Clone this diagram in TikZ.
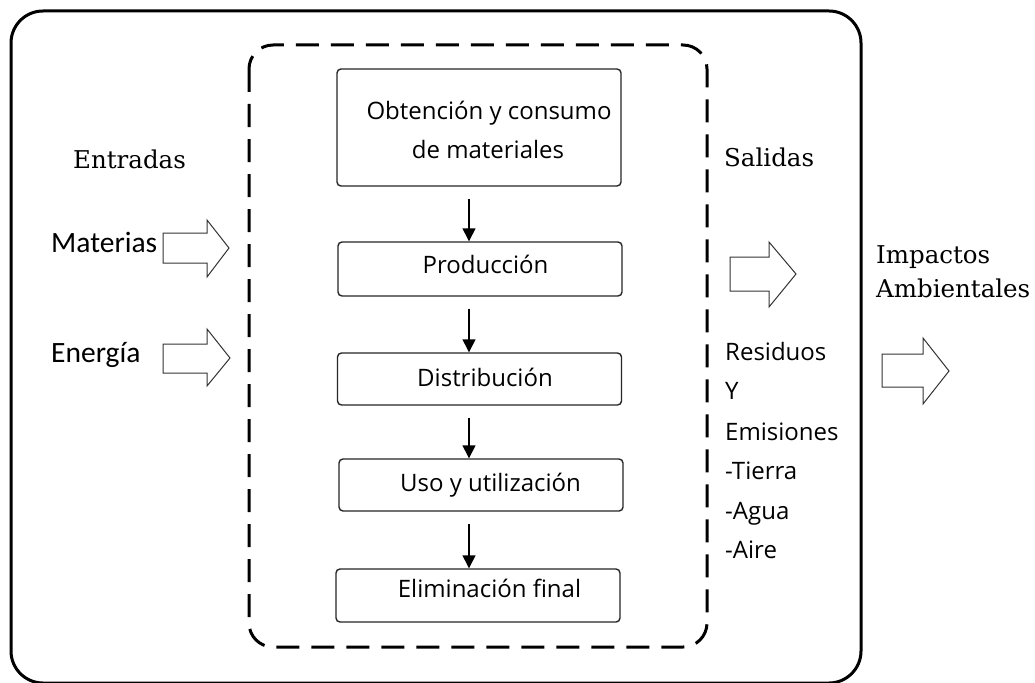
\documentclass[tikz,border=0pt]{standalone}
\usepackage{fontspec}
\usetikzlibrary{arrows.meta}
\newfontfamily\serifA{DejaVu Serif}
\newfontfamily\carl{Carlito}
\newfontfamily\opn{Open Sans}
\begin{document}
\begin{tikzpicture}[x=1pt,y=-1pt,
  outerbox/.style={draw=black,line width=3pt,rounded corners=32pt},
  dashbox/.style={draw=black,line width=3pt,dash pattern=on 23pt off 12pt,rounded corners=24pt},
  stage/.style={draw=black!85,line width=1.4pt,rounded corners=4pt,minimum width=284pt,inner sep=0pt},
  flow/.style={-{Triangle[length=13pt,width=13pt]},line width=1.4pt,shorten <=12pt},
  boxtxt/.style={font=\opn\fontsize{24}{28}\selectfont,anchor=base,inner sep=0pt},
  sidetxt/.style={font=\carl\fontsize{29.5}{33}\selectfont,anchor=base west,inner sep=0pt},
  outtxt/.style={font=\opn\fontsize{24}{28}\selectfont,anchor=base west,inner sep=0pt},
  sertxt/.style={font=\serifA\fontsize{24.5}{28}\selectfont,anchor=base west,inner sep=0pt},
  blockarr/.style={draw=black!80,line width=1pt,fill=white}]
\useasboundingbox (0,0) rectangle (1035,682);
\fill[white] (0,0) rectangle (1035,682);
% frames
\draw[outerbox] (11,11) rectangle (861,683);
\draw[dashbox] (249,45) rectangle (707,647);
% stages
\node[stage,minimum height=117pt] (b1) at (479,127.5) {};
\node[stage,minimum height=54pt] (b2) at (480,269) {};
\node[stage,minimum height=52pt] (b3) at (479.5,379) {};
\node[stage,minimum height=52pt] (b4) at (481,485) {};
\node[stage,minimum height=53pt] (b5) at (478,595.5) {};
\node[boxtxt] (t1a) at (489,120) {Obtención y consumo};
\node[boxtxt] (t1b) at (488,158) {de materiales};
\node[boxtxt] (t2) at (485.5,273) {Producción};
\node[boxtxt] (t3) at (485,386) {Distribución};
\node[boxtxt] (t4) at (490.5,491) {Uso y utilización};
\node[boxtxt] (t5) at (489.5,597) {Eliminación final};
% flow arrows
\draw[flow] (b1.south -| 469,0) -- (b2.north -| 469,0);
\draw[flow] (b2.south -| 469,0) -- (b3.north -| 469,0);
\draw[flow] (b3.south -| 469,0) -- (b4.north -| 469,0);
\draw[flow] (b4.south -| 469,0) -- (b5.north -| 469,0);
% left labels
\node[sertxt] (entradas) at (73,168) {Entradas};
\node[sidetxt] (materias) at (51,252) {Materias};
\node[sidetxt] (energia) at (51,362) {Energía};
% block arrows
\draw[blockarr] (163,233) -- (207,233) -- (207,220) -- (229,248) -- (207,277) -- (207,263) -- (163,263) -- cycle;
\draw[blockarr] (163,344) -- (207,344) -- (207,329) -- (230,358) -- (207,386) -- (207,373) -- (163,373) -- cycle;
\draw[blockarr] (730,257) -- (769,257) -- (769,242) -- (796,274) -- (769,307) -- (769,291) -- (730,291) -- cycle;
\draw[blockarr] (882,354) -- (923,354) -- (923,338) -- (949,371) -- (923,404) -- (923,387) -- (882,387) -- cycle;
% right labels
\node[sertxt] (salidas) at (724,166) {Salidas};
\node[sertxt] (imp1) at (876,263) {Impactos};
\node[sertxt] (imp2) at (876,297) {Ambientales};
\node[outtxt] (r1) at (725,360) {Residuos};
\node[outtxt] (r2) at (725,399) {Y};
\node[outtxt] (r3) at (725,440) {Emisiones};
\node[outtxt] (r4) at (725,479) {-Tierra};
\node[outtxt] (r5) at (725,519) {-Agua};
\node[outtxt] (r6) at (725,558) {-Aire};
\end{tikzpicture}
\end{document}
